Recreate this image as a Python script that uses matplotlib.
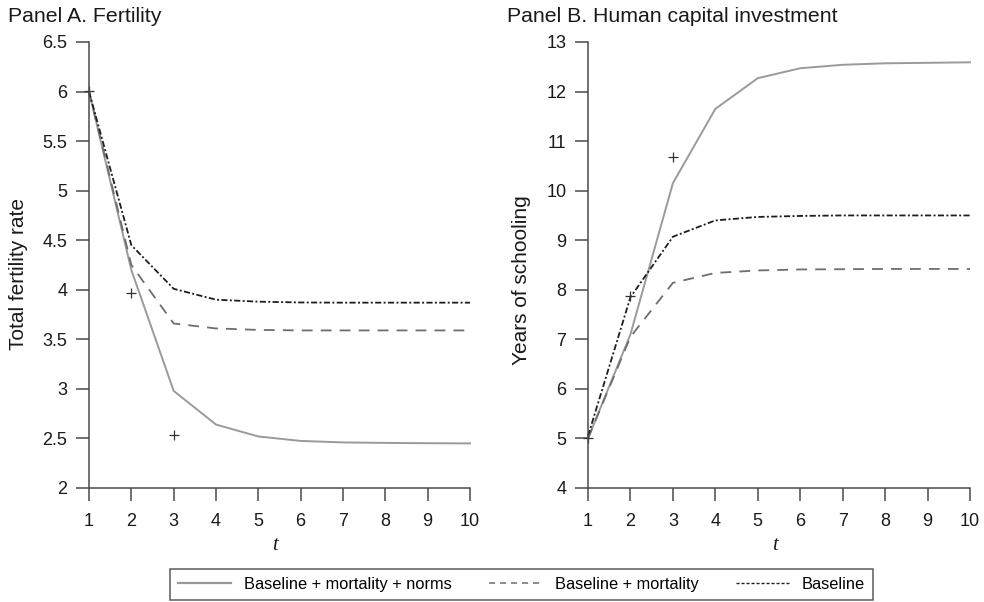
import matplotlib
matplotlib.use("Agg")
import matplotlib.pyplot as plt
from matplotlib.lines import Line2D

# Simulation periods
t = [1, 2, 3, 4, 5, 6, 7, 8, 9, 10]

# Panel A: total fertility rate
tfr_norms = [6.0, 4.2, 2.98, 2.64, 2.52, 2.475, 2.46, 2.455, 2.452, 2.45]
tfr_mortality = [6.0, 4.25, 3.66, 3.61, 3.595, 3.59, 3.59, 3.59, 3.59, 3.59]
tfr_baseline = [6.0, 4.45, 4.01, 3.9, 3.88, 3.872, 3.87, 3.87, 3.87, 3.87]
tfr_data_t = [1, 2, 3]
tfr_data = [6.01, 3.97, 2.53]

# Panel B: years of schooling
yrs_norms = [5.0, 7.1, 10.15, 11.65, 12.27, 12.47, 12.54, 12.57, 12.58, 12.59]
yrs_mortality = [5.0, 7.05, 8.14, 8.34, 8.39, 8.41, 8.415, 8.42, 8.42, 8.42]
yrs_baseline = [5.05, 7.85, 9.07, 9.4, 9.47, 9.49, 9.5, 9.5, 9.5, 9.5]
yrs_data_t = [1, 2, 3]
yrs_data = [5.0, 7.88, 10.68]

series_labels = ["Baseline + mortality + norms", "Baseline + mortality", "Baseline"]
panel_titles = ["Panel A. Fertility", "Panel B. Human capital investment"]
y_labels = ["Total fertility rate", "Years of schooling"]

plt.rcParams["font.family"] = ["Liberation Sans", "DejaVu Sans"]

W, H = 984, 602
fig = plt.figure(figsize=(W / 100, H / 100), dpi=100)

axis_col = "#4a4a4a"
c_norms = "#9a9a9a"
c_mort = "#6e6e6e"
c_base = "#1e1e1e"


def px_box(x0, x1, ytop, ybot):
    return [x0 / W, 1 - ybot / H, (x1 - x0) / W, (ybot - ytop) / H]


axA = fig.add_axes(px_box(89, 470, 42, 488))
axB = fig.add_axes(px_box(588, 970, 42, 488))


def style_axes(ax, ylim, yticks, yticklabels):
    ax.set_xlim(1, 10)
    ax.set_ylim(*ylim)
    for s in ("top", "right"):
        ax.spines[s].set_visible(False)
    for s in ("left", "bottom"):
        ax.spines[s].set_color(axis_col)
        ax.spines[s].set_linewidth(1.1)
    ax.set_xticks(t)
    ax.set_xticklabels([str(v) for v in t])
    ax.set_yticks(yticks)
    ax.set_yticklabels(yticklabels)
    ax.tick_params(axis="both", direction="out", length=9.5, width=1.1,
                   color=axis_col, labelsize=13, labelcolor="#1a1a1a")
    ax.tick_params(axis="x", pad=8.5)
    ax.tick_params(axis="y", pad=6)


def draw_panel(ax, norms, mort, base, dt, dv):
    ax.plot(t, norms, color=c_norms, lw=1.4, solid_joinstyle="round", clip_on=False)
    ax.plot(t, mort, color=c_mort, lw=1.3, dashes=(6, 4.5), clip_on=False)
    ax.plot(t, base, color=c_base, lw=1.3, dashes=(3.4, 1.3, 1.1, 1.3), clip_on=False)
    ax.plot(dt, dv, linestyle="none", marker="+", markersize=7, mew=0.9,
            color="#333333", clip_on=False)


draw_panel(axA, tfr_norms, tfr_mortality, tfr_baseline, tfr_data_t, tfr_data)
draw_panel(axB, yrs_norms, yrs_mortality, yrs_baseline, yrs_data_t, yrs_data)

a_ticks = [2, 2.5, 3, 3.5, 4, 4.5, 5, 5.5, 6, 6.5]
style_axes(axA, (2, 6.5), a_ticks, [f"{v:g}" for v in a_ticks])
b_ticks = list(range(4, 14))
style_axes(axB, (4, 13), b_ticks, [str(v) for v in b_ticks])

# Panel titles and axis labels
fig.text(8 / W, 1 - 16 / H, panel_titles[0], fontsize=15.3, ha="left", va="center", color="#1a1a1a")
fig.text(507 / W, 1 - 16 / H, panel_titles[1], fontsize=15.3, ha="left", va="center", color="#1a1a1a")
fig.text(18.5 / W, 1 - 274.5 / H, y_labels[0], fontsize=15, rotation=90,
         ha="center", va="center", color="#1a1a1a")
fig.text(521.5 / W, 1 - 280 / H, y_labels[1], fontsize=15, rotation=90,
         ha="center", va="center", color="#1a1a1a")
for xc in (275, 775):
    fig.text(xc / W, 1 - 546 / H, "t", fontsize=15, style="italic",
             family=["Liberation Serif", "DejaVu Serif"], ha="center", va="center",
             color="#1a1a1a")

# Legend
handles = [
    Line2D([], [], color=c_norms, lw=1.6),
    Line2D([], [], color=c_mort, lw=1.1, dashes=(4, 3.2)),
    Line2D([], [], color=c_base, lw=1.0, dashes=(2.2, 1.4)),
]
leg = fig.legend(handles, series_labels, loc="center", ncol=3,
                 bbox_to_anchor=(521.5 / W, 1 - 584.5 / H), frameon=True,
                 fancybox=False, shadow=False, fontsize=11.8, handlelength=3.2,
                 handletextpad=0.8, columnspacing=2.3, borderpad=0.5,
                 borderaxespad=0)
leg.get_frame().set_edgecolor("#333333")
leg.get_frame().set_linewidth(1.1)

fig.savefig("out.png", dpi=100)
